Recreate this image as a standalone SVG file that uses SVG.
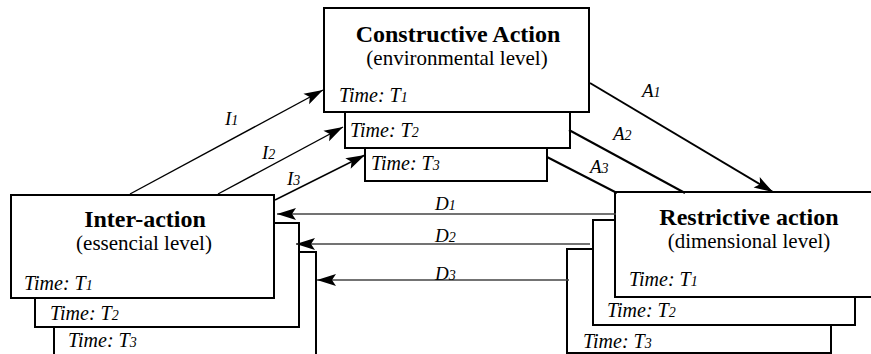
<svg xmlns="http://www.w3.org/2000/svg" width="871" height="354" viewBox="0 0 871 354" font-family="Liberation Serif, DejaVu Serif, Times New Roman, serif">
  <style>
    .box { fill: #fff; stroke: #000; stroke-width: 2; }
    .title { font-weight: bold; font-size: 24px; text-anchor: middle; }
    .sub { font-size: 21px; text-anchor: middle; }
    .time { font-style: italic; font-size: 20px; }
    .lbl { font-style: italic; font-size: 19px; }
    .idx { font-size: 14px; }
    .i-link { stroke: #000; stroke-width: 1.4; fill: none; }
    .a-link { stroke: #000; stroke-width: 2; fill: none; }
    .d-link { stroke: #444; stroke-width: 1.6; fill: none; }
  </style>
  <defs>
    <marker id="head" viewBox="-1 -7 21 14" refX="19" refY="0" markerWidth="21" markerHeight="14" markerUnits="userSpaceOnUse" orient="auto">
      <path d="M0,-6 L19,0 L0,6 L4,0 z" fill="#000"/>
    </marker>
  </defs>
  <rect width="871" height="354" fill="#fff"/>

  <!-- Constructive action: environmental level -->
  <g id="constructive" font-family="Liberation Serif">
    <rect class="box" x="365" y="148" width="182" height="33"/>
    <text class="time" x="371" y="170">Time: T<tspan class="idx">3</tspan></text>
    <rect class="box" x="345" y="112" width="225" height="36"/>
    <text class="time" x="350" y="137">Time: T<tspan class="idx">2</tspan></text>
    <rect class="box" x="324" y="8" width="265" height="104"/>
    <text class="title" x="458" y="42">Constructive Action</text>
    <text class="sub" x="457" y="65">(environmental level)</text>
    <text class="time" x="339" y="102">Time: T<tspan class="idx">1</tspan></text>
  </g>

  <!-- Inter-action: essencial level -->
  <g id="interaction" font-family="Liberation Serif">
    <rect class="box" x="54" y="252" width="262" height="110"/>
    <text class="time" x="68" y="347">Time: T<tspan class="idx">3</tspan></text>
    <rect class="box" x="35" y="223" width="264" height="104"/>
    <text class="time" x="50" y="320">Time: T<tspan class="idx">2</tspan></text>
    <rect class="box" x="11" y="195" width="263" height="103"/>
    <text class="title" x="145" y="227">Inter-action</text>
    <text class="sub" x="144" y="250">(essencial level)</text>
    <text class="time" x="24" y="290">Time: T<tspan class="idx">1</tspan></text>
  </g>

  <!-- Restrictive action: dimensional level -->
  <g id="restrictive" font-family="Liberation Serif">
    <rect class="box" x="567" y="249" width="264" height="104"/>
    <text class="time" x="583" y="348">Time: T<tspan class="idx">3</tspan></text>
    <rect class="box" x="593" y="220" width="262" height="105"/>
    <text class="time" x="607" y="317">Time: T<tspan class="idx">2</tspan></text>
    <rect class="box" x="615" y="192" width="270" height="105"/>
    <text class="title" x="749" y="225">Restrictive action</text>
    <text class="sub" x="749" y="248">(dimensional level)</text>
    <text class="time" x="629" y="286">Time: T<tspan class="idx">1</tspan></text>
  </g>

  <!-- Connectors -->
  <g id="connectors" font-family="Liberation Serif">
    <line class="i-link" x1="130" y1="194" x2="323" y2="90" marker-end="url(#head)"/>
    <line class="i-link" x1="218" y1="194" x2="343" y2="127" marker-end="url(#head)"/>
    <line class="i-link" x1="275" y1="200" x2="365" y2="155" marker-end="url(#head)"/>

    <line class="a-link" x1="590" y1="83" x2="773" y2="192" marker-end="url(#head)"/>
    <line class="a-link" x1="569" y1="130" x2="685" y2="193"/>
    <line class="a-link" x1="547" y1="157" x2="617" y2="193"/>

    <line class="d-link" x1="616" y1="214" x2="277" y2="214" marker-end="url(#head)"/>
    <line class="d-link" x1="590" y1="244" x2="296" y2="244" marker-end="url(#head)"/>
    <line class="d-link" x1="569" y1="280" x2="317" y2="280" marker-end="url(#head)"/>

    <text class="lbl" x="225" y="125">I<tspan class="idx">1</tspan></text>
    <text class="lbl" x="262" y="159">I<tspan class="idx">2</tspan></text>
    <text class="lbl" x="287" y="185">I<tspan class="idx">3</tspan></text>

    <text class="lbl" x="642" y="97">A<tspan class="idx">1</tspan></text>
    <text class="lbl" x="613" y="140">A<tspan class="idx">2</tspan></text>
    <text class="lbl" x="590" y="173">A<tspan class="idx">3</tspan></text>

    <text class="lbl" x="435" y="210">D<tspan class="idx">1</tspan></text>
    <text class="lbl" x="435" y="242">D<tspan class="idx">2</tspan></text>
    <text class="lbl" x="435" y="280">D<tspan class="idx">3</tspan></text>
  </g>
</svg>
